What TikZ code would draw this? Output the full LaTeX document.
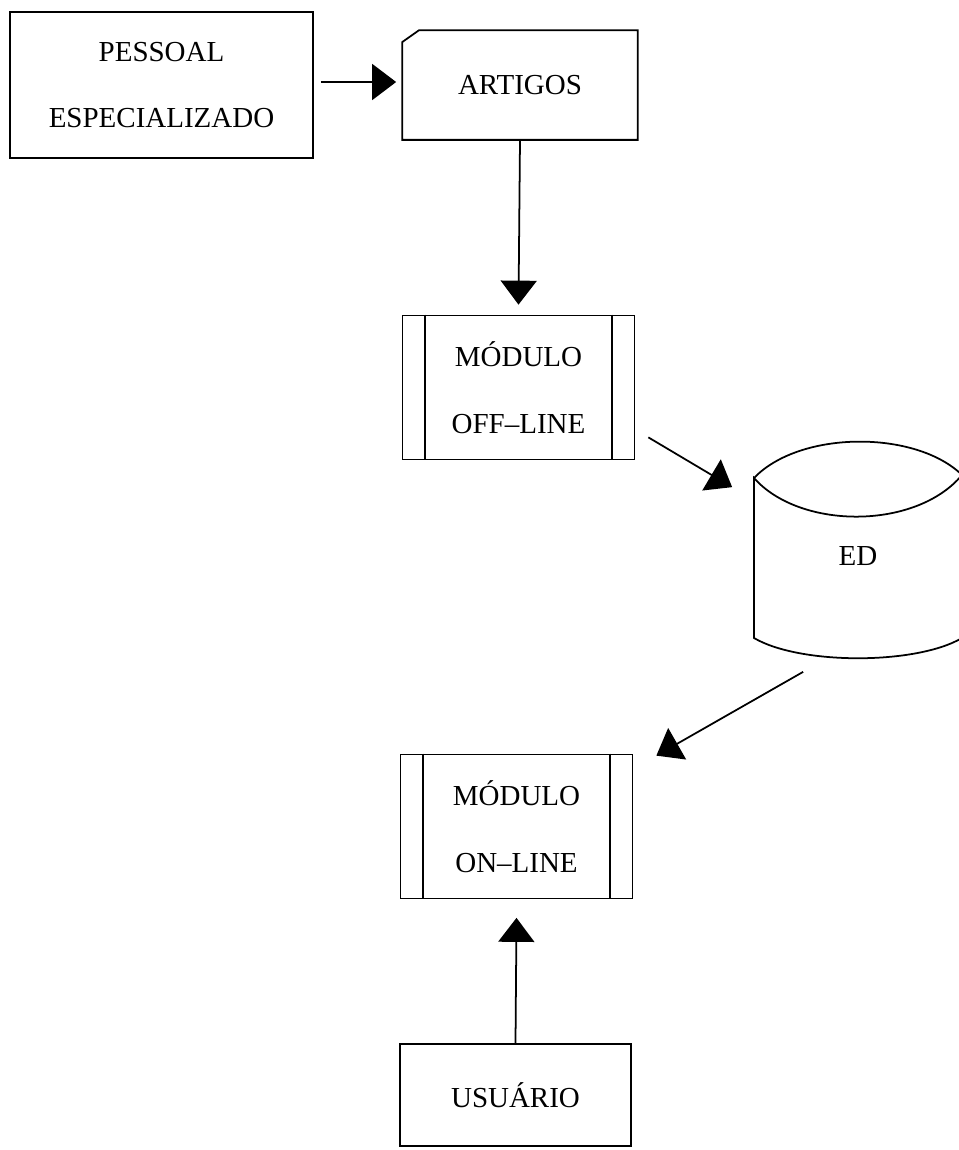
\documentclass[tikz,border=0pt]{standalone}
\usepackage{fontspec}
\setmainfont{Liberation Serif}
\usepackage{tikz}
\usetikzlibrary{arrows.meta, positioning}

\tikzset{
    caixa/.style={rectangle, draw, line width=1pt, align=center, font=\fontsize{16.5}{38}\selectfont},
    modulo/.style={caixa, minimum width=4.64cm, minimum height=2.88cm},
    seta/.style={-{Triangle[length=0.48cm, width=0.72cm]}, line width=1pt}
}

\begin{document}
\begin{tikzpicture}[x=0.02cm, y=-0.02cm]
    \useasboundingbox (0,0) rectangle (959,1150);

    \node[caixa, minimum width=6.06cm, minimum height=2.92cm] (pessoal) at (161.5,85) {PESSOAL\\ESPECIALIZADO};
    \node[caixa, draw=none, minimum width=4.68cm, minimum height=2.16cm] (artigos) at (520,85) {ARTIGOS};
    \draw[line width=1pt] (artigos.south west) -- ([yshift=-0.24cm]artigos.north west) -- ([xshift=0.34cm]artigos.north west)
        -- (artigos.north east) -- (artigos.south east) -- cycle;

    \node[modulo] (offline) at (518.5,387.5) {MÓDULO\\OFF--LINE};
    \node[modulo] (online) at (516.5,826.5) {MÓDULO\\ON--LINE};
    \foreach \m in {offline, online} {
        \draw[line width=1pt] ([xshift=0.46cm]\m.north west) -- ([xshift=0.46cm]\m.south west)
            ([xshift=-0.46cm]\m.north east) -- ([xshift=-0.46cm]\m.south east);
    }
    \node[caixa, minimum width=4.62cm, minimum height=2.04cm] (usuario) at (515.5,1095) {USUÁRIO};

    % ED
    \node[caixa, draw=none, minimum width=4.16cm, minimum height=4.32cm] (ed) at (858,556) {ED};
    \draw[line width=1pt] (754,478) .. controls (800,430) and (916,430) .. (962,475)
        .. controls (916,530) and (800,530) .. (754,478) -- (754,638)
        .. controls (800,665) and (916,665) .. (962,638) -- (962,475);

    \draw[seta] ([shift={(7,-3)}]pessoal.east) -- ([shift={(-6,-3)}]artigos.west);
    \draw[seta] (artigos.south) -- ([yshift=0.2cm]offline.north);
    \draw[seta] ([shift={(13,-23)}]offline.south east) -- ([shift={(-21,40)}]ed.north west);
    \draw[seta] ([shift={(50,7)}]ed.south west) -- ([shift={(23,2)}]online.north east);
    \draw[seta] (usuario.north) -- ([yshift=-0.37cm]online.south);
\end{tikzpicture}
\end{document}
